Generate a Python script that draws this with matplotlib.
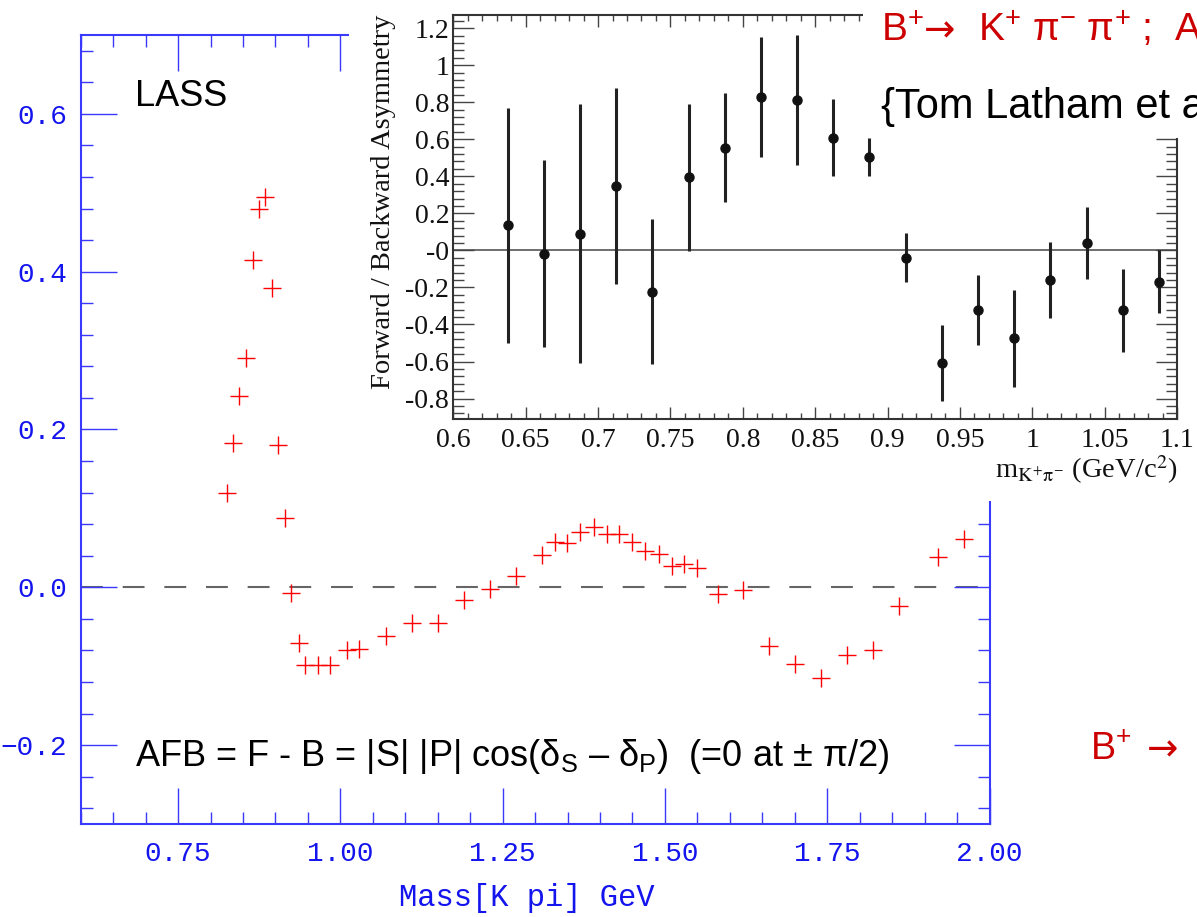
import matplotlib
matplotlib.use("Agg")
import matplotlib.pyplot as plt
from matplotlib.ticker import MultipleLocator, FuncFormatter
from matplotlib.patches import Rectangle

# LASS: forward-backward asymmetry versus K-pi mass
lass_mass = [0.825, 0.835, 0.844, 0.855, 0.865, 0.875, 0.884, 0.895, 0.904,
             0.915, 0.924, 0.936, 0.946, 0.966, 0.984, 1.010, 1.029, 1.070,
             1.111, 1.150, 1.191, 1.231, 1.271, 1.311, 1.330, 1.349, 1.369,
             1.391, 1.410, 1.430, 1.449, 1.470, 1.491, 1.511, 1.530, 1.550,
             1.581, 1.621, 1.661, 1.701, 1.741, 1.781, 1.821, 1.861, 1.921,
             1.961]
lass_afb = [0.120, 0.183, 0.242, 0.290, 0.415, 0.480, 0.495, 0.379, 0.180,
            0.088, -0.007, -0.071, -0.098, -0.099, -0.099, -0.079, -0.078,
            -0.062, -0.045, -0.045, -0.016, -0.002, 0.014, 0.041, 0.057,
            0.056, 0.070, 0.077, 0.068, 0.068, 0.058, 0.046, 0.042, 0.027,
            0.029, 0.025, -0.009, -0.003, -0.074, -0.097, -0.115, -0.086,
            -0.079, -0.024, 0.039, 0.061]

# B+ -> K+ pi- pi+ : asymmetry in bins of m(K+ pi-)
babar_mass = [0.6375, 0.6625, 0.6875, 0.7125, 0.7375, 0.7625, 0.7875, 0.8125,
              0.8375, 0.8625, 0.8875, 0.9125, 0.9375, 0.9625, 0.9875, 1.0125,
              1.0375, 1.0625, 1.0875]
babar_afb = [0.136, -0.018, 0.091, 0.349, -0.222, 0.396, 0.555, 0.828, 0.812,
             0.609, 0.504, -0.039, -0.608, -0.323, -0.475, -0.160, 0.039,
             -0.323, -0.170]
babar_err = [0.635, 0.506, 0.697, 0.530, 0.390, 0.397, 0.295, 0.322, 0.351,
             0.206, 0.105, 0.134, 0.204, 0.188, 0.263, 0.206, 0.196, 0.224,
             0.170]

inset_xticks = [0.6, 0.65, 0.7, 0.75, 0.8, 0.85, 0.9, 0.95, 1.0, 1.05, 1.1]
inset_xticklabels = ["0.6", "0.65", "0.7", "0.75", "0.8", "0.85", "0.9",
                     "0.95", "1", "1.05", "1.1"]
inset_yticks = [-0.8, -0.6, -0.4, -0.2, 0.0, 0.2, 0.4, 0.6, 0.8, 1.0, 1.2]
inset_yticklabels = ["-0.8", "-0.6", "-0.4", "-0.2", "-0", "0.2", "0.4",
                     "0.6", "0.8", "1", "1.2"]

plt.rcParams["font.family"] = ["Liberation Sans", "DejaVu Sans"]
plt.rcParams["mathtext.fontset"] = "custom"
plt.rcParams["mathtext.rm"] = "Liberation Sans"
plt.rcParams["mathtext.it"] = "Liberation Sans:italic"
plt.rcParams["mathtext.bf"] = "Liberation Sans:bold"

W, H = 1197, 917


def fx(px):
    return px / W


def fy(py):
    return 1.0 - py / H


MONO = ["Liberation Mono", "DejaVu Sans Mono"]
SERIF = ["Liberation Serif", "DejaVu Serif"]
ARROW = ["DejaVu Sans"]
axis_blue = "#3a3aff"
text_blue = "#1414ee"
title_red = "#cc0000"

fig = plt.figure(figsize=(W / 100, H / 100), dpi=100)
fig.patch.set_facecolor("white")

# ---------------- main LASS panel ----------------
ax = fig.add_axes([fx(80.7), fy(824), (989.5 - 80.7) / W, (824 - 35) / H])
ax.set_xlim(0.6, 2.0)
ax.set_ylim(-0.3, 0.7)
ax.axhline(0.0, color="#666666", lw=1.5, dashes=(10.5, 9.5), zorder=1)
ax.plot(lass_mass, lass_afb, ls="none", marker="+", ms=12.5, mew=1.0,
        color="#ff0000", zorder=3)

ax.xaxis.set_major_locator(MultipleLocator(0.25))
ax.xaxis.set_minor_locator(MultipleLocator(0.05))
ax.yaxis.set_major_locator(MultipleLocator(0.2))
ax.yaxis.set_minor_locator(MultipleLocator(0.04))


def fmt_x(v, pos):
    return f"{v:.2f}"


def fmt_y(v, pos):
    if abs(v) < 1e-9:
        v = 0.0
    return f"{v:.1f}".replace("-", "\u2212")


ax.xaxis.set_major_formatter(FuncFormatter(fmt_x))
ax.yaxis.set_major_formatter(FuncFormatter(fmt_y))
ax.tick_params(which="both", direction="in", top=True, right=True,
               color=axis_blue, labelcolor=text_blue, labelsize=20,
               labelfontfamily=MONO)
ax.tick_params(which="major", length=26, width=1.0)
ax.tick_params(which="minor", length=8.6, width=1.0)
ax.tick_params(axis="y", pad=10)
ax.tick_params(axis="x", pad=12)
for s in ax.spines.values():
    s.set_color(axis_blue)
    s.set_linewidth(1.5)

ax.set_xlabel("Mass[K pi] GeV", fontsize=22, color=text_blue, family=MONO)
ax.xaxis.set_label_coords(0.491, -0.075)

fig.text(fx(135), fy(106), "LASS", fontsize=26, va="baseline", color="black")
fig.text(fx(135), fy(766),
         r"AFB = F - B = |S| |P| cos(δ$_{\mathrm{S}}$ – δ$_{\mathrm{P}}$)  (=0 at ± π/2)",
         fontsize=26, va="baseline", color="black")

# white backing behind the B-decay panel
fig.add_artist(Rectangle((fx(349), fy(501)), 1 - fx(349), 501 / H,
                         transform=fig.transFigure, facecolor="white",
                         edgecolor="none", zorder=1))

# ---------------- B -> K pi pi panel ----------------
ax2 = fig.add_axes([fx(453.3), fy(419.3), (1177 - 453.3) / W, (419.3 - 15) / H])
ax2.set_zorder(2)
ax2.set_facecolor("white")
ax2.set_xlim(0.6, 1.1)
ax2.set_ylim(-0.912, 1.271)
ax2.axhline(0.0, color="#555555", lw=1.2, zorder=1)
ax2.errorbar(babar_mass, babar_afb, yerr=babar_err, fmt="o", ms=6.5,
             color="#111111", ecolor="#222222", elinewidth=2.2, capsize=0,
             zorder=3)
ax2.set_xticks(inset_xticks, labels=inset_xticklabels)
ax2.set_yticks(inset_yticks, labels=inset_yticklabels)
ax2.xaxis.set_minor_locator(MultipleLocator(0.01))
ax2.yaxis.set_minor_locator(MultipleLocator(0.04))
ax2.tick_params(which="both", direction="in", top=True, right=True,
                color="#444444", labelcolor="#111111", labelsize=20,
                labelfontfamily=SERIF)
ax2.tick_params(axis="y", which="major", length=15, width=1.0, pad=3)
ax2.tick_params(axis="y", which="minor", length=8, width=1.0)
ax2.tick_params(axis="x", which="major", length=8.6, width=1.0, pad=6)
ax2.tick_params(axis="x", which="minor", length=4, width=1.0)
for s in ax2.spines.values():
    s.set_color("#333333")
    s.set_linewidth(1.5)

ax2.text(-0.097, 1.0, "Forward / Backward Asymmetry", transform=ax2.transAxes,
         rotation=90, ha="center", va="top", fontsize=20.5, family=SERIF,
         color="#111111")
ax2.text(1.0, -0.146, r"m$_{\mathrm{K^{+}\pi^{-}}}$ (GeV/c$^{2}$)",
         transform=ax2.transAxes, ha="right", va="baseline", fontsize=20.5,
         family=SERIF, math_fontfamily="stix", color="#111111")

# white backing behind the decay title
fig.add_artist(Rectangle((fx(863), fy(138)), 1 - fx(863), 138 / H,
                         transform=fig.transFigure, facecolor="white",
                         edgecolor="none", zorder=3))

# decay title, arrow set in a font with a full-width arrow glyph
fig.text(fx(881), fy(41.7), r"B$^{+}$", fontsize=28, va="baseline",
         color=title_red, zorder=4)
fig.text(fx(924), fy(41.7), "→", fontsize=27, va="baseline",
         family=ARROW, color=title_red, zorder=4)
fig.text(fx(978), fy(41.7), r"K$^{+}$ π$^{-}$ π$^{+}$ ;  AFB",
         fontsize=28, va="baseline", color=title_red, zorder=4)
fig.text(fx(881), fy(118.3), "{Tom Latham et al.}", fontsize=30,
         va="baseline", color="black", zorder=4)

fig.text(fx(1090), fy(760), r"B$^{+}$", fontsize=27, va="baseline",
         color=title_red, zorder=4)
fig.text(fx(1147), fy(760), "→", fontsize=27, va="baseline",
         family=ARROW, color=title_red, zorder=4)

fig.savefig("out.png", dpi=100)
